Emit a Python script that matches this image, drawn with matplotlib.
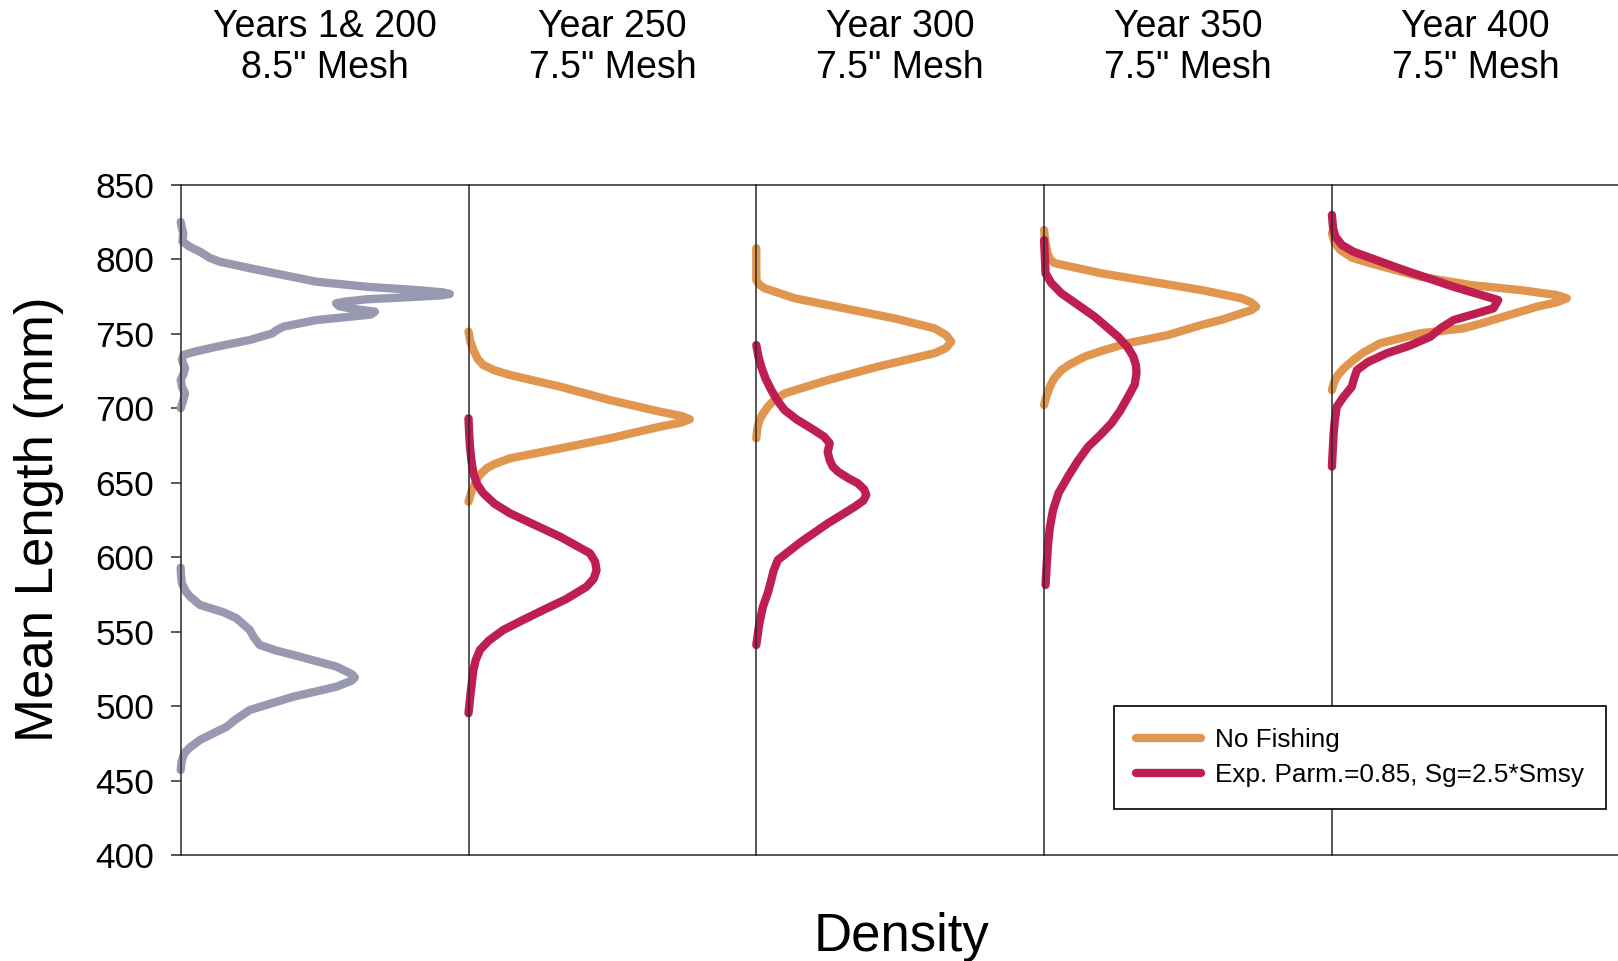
import matplotlib
matplotlib.use("Agg")
import matplotlib.pyplot as plt

plt.rcParams['font.family'] = ['Liberation Sans', 'DejaVu Sans']

# ---------------- data ----------------
panel_titles = ["Years 1& 200", "Year 250", "Year 300", "Year 350", "Year 400"]
panel_mesh = ["8.5\" Mesh", "7.5\" Mesh", "7.5\" Mesh", "7.5\" Mesh", "7.5\" Mesh"]
y_ticks = [400, 450, 500, 550, 600, 650, 700, 750, 800, 850]

# Panel 1 (grey) - two separate humps; density as fraction of panel width
gray_upper_len = [825, 821, 817.4, 812, 808.5, 805, 801, 798.3, 794, 789.4, 784.9, 781.5, 779.3, 777.8, 776.7,
                  775.8, 774.8, 773.1, 771.5, 770.4, 768.5, 767, 764.8, 762.8, 761.4, 759.2, 754.7, 752, 750.3, 745.8,
                  741.3, 738, 735.7, 732.4, 726.8, 723, 719, 714, 710, 705, 700]
gray_upper_den = [0.0, 0.004, 0.009, 0.006, 0.03, 0.067, 0.1, 0.136, 0.24, 0.356, 0.472, 0.646, 0.82, 0.91, 0.935,
                  0.91, 0.82, 0.646, 0.57, 0.54, 0.55, 0.588, 0.675, 0.66, 0.588, 0.472, 0.356, 0.33, 0.32, 0.24,
                  0.125, 0.05, 0.009, 0.004, 0.015, 0.01, 0.0, 0.005, 0.015, 0.008, 0.0]
gray_lower_len = [593, 588, 582.5, 577, 573.5, 568, 563, 559, 551.2, 546, 541.1, 537.5, 533.3, 526.6, 521.5, 519.4,
                  517.3, 513.1, 506.4, 497.5, 491, 486.3, 477.4, 472, 468.4, 463, 457.2]
gray_lower_den = [0.0, 0.001, 0.004, 0.018, 0.033, 0.067, 0.15, 0.194, 0.24, 0.255, 0.275, 0.33, 0.414, 0.541, 0.595, 0.605,
                  0.595, 0.541, 0.391, 0.24, 0.19, 0.16, 0.067, 0.03, 0.012, 0.003, 0.0]

# Panels 2-5: "No Fishing" (orange) and "Exp. Parm." (red)
nofish_len = [
    [751.4, 745, 739.1, 733, 729, 725.5, 722.3, 714.5, 705.5, 697.7, 694.8, 692.6, 690.4, 687.6, 679.8, 673,
     666.4, 662.5, 659.7, 655.5, 651.8, 645, 637.3],
    [807.3, 796, 786, 783, 780.5, 773.8, 767, 760.3, 753.6, 749, 744.7, 740.5, 736.9, 727.9, 718.9, 710,
     705, 701, 696, 692.1, 686, 679.8],
    [819.6, 812, 804, 800, 797.3, 790.5, 784.9, 779.3, 773.8, 771, 768.1, 765.8, 763.7, 759.5, 755.9, 749.1,
     743.6, 738.5, 734.6, 729.5, 725.6, 720, 714.4, 708, 702.2],
    [817.4, 811, 806.2, 801, 797.3, 788.3, 782.7, 779.3, 776, 773.8, 771, 768.1, 761.4, 757.5, 753.6, 750.3,
     743.6, 737.5, 732.4, 726.5, 721.2, 716.5, 712.2],
]
nofish_den = [
    [0.0, 0.006, 0.017, 0.032, 0.051, 0.09, 0.144, 0.318, 0.491, 0.665, 0.74, 0.769, 0.74, 0.665, 0.491, 0.318,
     0.144, 0.09, 0.063, 0.04, 0.028, 0.012, 0.0],
    [0.0, 0.0, 0.0, 0.01, 0.029, 0.133, 0.307, 0.48, 0.619, 0.66, 0.677, 0.66, 0.619, 0.422, 0.249, 0.099,
     0.06, 0.04, 0.022, 0.011, 0.003, 0.0],
    [0.0, 0.004, 0.012, 0.02, 0.037, 0.2, 0.373, 0.547, 0.685, 0.72, 0.737, 0.72, 0.685, 0.62, 0.547, 0.43,
     0.29, 0.2, 0.141, 0.09, 0.06, 0.035, 0.02, 0.008, 0.0],
    [0.0, 0.01, 0.029, 0.07, 0.133, 0.307, 0.48, 0.654, 0.78, 0.816, 0.78, 0.712, 0.596, 0.53, 0.457, 0.307,
     0.168, 0.11, 0.075, 0.04, 0.017, 0.006, 0.0],
]
exp_len = [
    [693.2, 684, 674.2, 665, 656.3, 649, 643, 636, 629.5, 613.8, 602.7, 597, 591.4, 585.5, 580.2, 572, 564.6,
     557.5, 551.2, 544, 537.8, 531, 524.3, 510, 495.3],
    [742.4, 735, 727.9, 720, 712.2, 705, 698.8, 692.5, 686.5, 681, 676.5, 670.5, 665.3, 661, 657.4, 653, 649.6,
     645.5, 641.8, 638, 633.9, 622.8, 610.4, 603.5, 598.2, 591, 584.7, 576, 566.8, 555, 541.1],
    [812.9, 800, 790.5, 784, 777.1, 769, 761.4, 748, 741, 734.6, 729, 723.5, 716, 707.7, 698.5, 689.9, 682,
     674.2, 664, 654.1, 643, 631.7, 620, 609.4, 595, 581.4],
    [829.7, 821, 815.1, 809.5, 805, 792.8, 781.5, 776.5, 772.6, 767, 763.5, 759.2, 754, 748, 742, 736.9, 731,
     725.6, 720.5, 714.4, 707.5, 701, 692, 683.2, 672, 660.8],
]
exp_den = [
    [0.0, 0.002, 0.005, 0.01, 0.017, 0.03, 0.051, 0.09, 0.144, 0.318, 0.422, 0.44, 0.445, 0.435, 0.41, 0.34,
     0.26, 0.185, 0.121, 0.07, 0.04, 0.025, 0.017, 0.008, 0.0],
    [0.0, 0.007, 0.017, 0.032, 0.052, 0.074, 0.098, 0.14, 0.191, 0.235, 0.255, 0.248, 0.255, 0.265, 0.284,
     0.32, 0.353, 0.375, 0.382, 0.372, 0.342, 0.249, 0.156, 0.11, 0.075, 0.06, 0.052, 0.04, 0.023, 0.01, 0.0],
    [0.0, 0.003, 0.005, 0.025, 0.06, 0.12, 0.176, 0.257, 0.29, 0.31, 0.319, 0.321, 0.315, 0.292, 0.265, 0.234,
     0.195, 0.153, 0.115, 0.083, 0.05, 0.031, 0.02, 0.014, 0.009, 0.005],
    [0.0, 0.004, 0.012, 0.035, 0.075, 0.249, 0.423, 0.51, 0.578, 0.561, 0.5, 0.423, 0.38, 0.342, 0.27, 0.191,
     0.125, 0.087, 0.078, 0.069, 0.04, 0.017, 0.01, 0.006, 0.003, 0.0],
]
legend_labels = ["No Fishing", "Exp. Parm.=0.85, Sg=2.5*Smsy"]

# ---------------- styling ----------------
GRAY = "#9898b0"
ORANGE = "#e0964f"
RED = "#be1e50"
SPINE = "#2a2a2a"
LW = 6.0

W, H = 1618, 961
fig, axes = plt.subplots(1, 5, figsize=(W / 100, H / 100), dpi=100, sharey=True)
fig.subplots_adjust(left=180.7 / W, right=1619.7 / W, top=1 - 184.7 / H,
                    bottom=1 - 855.3 / H, wspace=0)

for i, ax in enumerate(axes):
    ax.set_xlim(0, 1)
    ax.set_ylim(400, 850)
    for side in ("left", "top", "bottom"):
        ax.spines[side].set_color(SPINE)
        ax.spines[side].set_linewidth(1.1)
    ax.spines["right"].set_visible(False)
    ax.set_xticks([])
    ax.tick_params(axis="y", which="both", left=(i == 0), labelleft=(i == 0),
                   direction="out", length=7.2, width=1.1, color=SPINE,
                   labelsize=25.5, pad=12)

axes[0].set_yticks(y_ticks)

kw = dict(solid_capstyle="round", solid_joinstyle="round", clip_on=False)
axes[0].plot(gray_upper_den, gray_upper_len, color=GRAY, lw=LW, **kw)
axes[0].plot(gray_lower_den, gray_lower_len, color=GRAY, lw=LW, **kw)

handles = []
for k in range(4):
    ax = axes[k + 1]
    h1, = ax.plot(nofish_den[k], nofish_len[k], color=ORANGE, lw=LW, **kw)
    h2, = ax.plot(exp_den[k], exp_len[k], color=RED, lw=LW, **kw)
    if k == 0:
        handles = [h1, h2]

# panel titles
for i, ax in enumerate(axes):
    pos = ax.get_position()
    cx = (pos.x0 + pos.x1) / 2
    fig.text(cx, 1 - 36.7 / H, panel_titles[i], ha="center", va="baseline", fontsize=27)
    fig.text(cx, 1 - 78.3 / H, panel_mesh[i], ha="center", va="baseline", fontsize=27)

# axis labels
fig.text(39 / W, 1 - 519 / H, "Mean Length (mm)", rotation=90, ha="center", va="center",
         fontsize=38)
fig.text(901 / W, 1 - 951 / H, "Density", ha="center", va="baseline", fontsize=38)

leg = fig.legend(handles, legend_labels, loc="upper left",
                 bbox_to_anchor=(1114 / W, 1 - 706 / H), bbox_transform=fig.transFigure,
                 borderaxespad=0, fontsize=18.8, frameon=True, fancybox=False,
                 handlelength=2.5, handletextpad=0.5, borderpad=0.85, labelspacing=0.4)
leg.get_frame().set_edgecolor("black")
leg.get_frame().set_linewidth(1.2)
leg.get_frame().set_alpha(1)

fig.savefig("out.png", dpi=100, facecolor="white")
